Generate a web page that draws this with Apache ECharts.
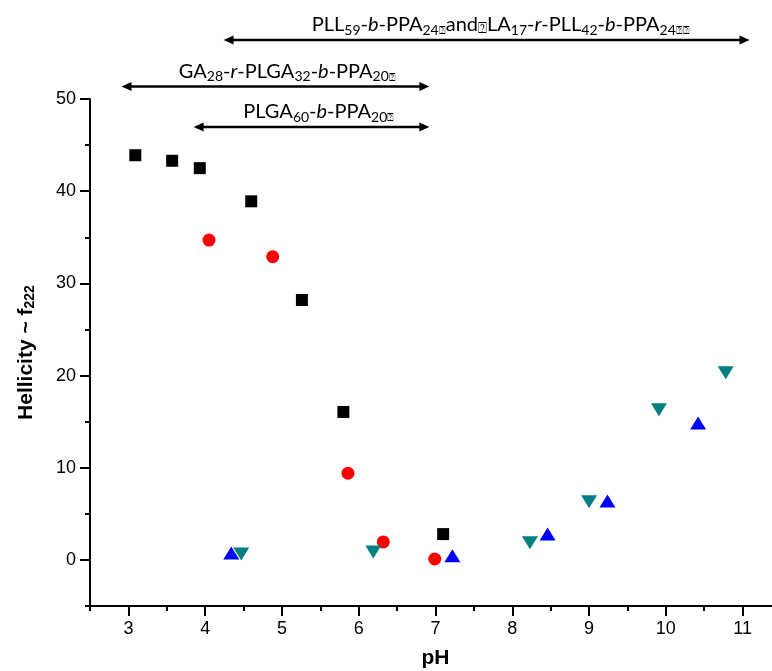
<!DOCTYPE html>
<html><head><meta charset="utf-8">
<script src="https://cdn.jsdelivr.net/npm/echarts@6/dist/echarts.min.js"></script>
<style>html,body{margin:0;padding:0;background:#fff}#c{width:772px;height:671px}</style>
</head><body><div id="c"></div>
<script>
// Data
const sqX = [3.09, 3.57, 3.93, 4.60, 5.26, 5.80, 7.10];
const sqY = [43.9, 43.3, 42.5, 38.9, 28.2, 16.05, 2.8];
const ciX = [4.05, 4.88, 5.86, 6.32, 6.99];
const ciY = [34.7, 32.9, 9.4, 1.95, 0.1];
const upX = [4.34, 7.22, 8.46, 9.24, 10.42];
const upY = [0.75, 0.45, 2.8, 6.4, 14.85];
const dnX = [4.47, 6.19, 8.23, 9.00, 9.91, 10.78];
const dnY = [0.65, 0.85, 1.85, 6.3, 16.3, 20.3];
const xTicks = [3, 4, 5, 6, 7, 8, 9, 10, 11];
const xMinorTicks = [2.5, 3.5, 4.5, 5.5, 6.5, 7.5, 8.5, 9.5, 10.5, 11.5];
const yTicks = [0, 10, 20, 30, 40, 50];
const yMinorTicks = [-5, 5, 15, 25, 35, 45];
// annotation ranges (pH) and heights (axis units)
const annStart = [4.24, 2.91, 3.85];
const annEnd = [11.09, 6.92, 6.92];
const annY = [56.4, 51.35, 46.96];
const annTextX = [7.85, 5.07, 5.48];
const annText = [
  '{n|PLL}{s|59}{n|-}{i|b}{n|-PPA}{s|24}{q|\u2370}{n|and}{Q|\u2370}{n|LA}{s|17}{n|-}{i|r}{n|-PLL}{s|42}{n|-}{i|b}{n|-PPA}{s|24}{q|\u2370\u2370}',
  '{n|GA}{s|28}{n|-}{i|r}{n|-PLGA}{s|32}{n|-}{i|b}{n|-PPA}{s|20}{q|\u2370}',
  '{n|PLGA}{s|60}{n|-}{i|b}{n|-PPA}{s|20}{q|\u2370}'
];

const AF = 'Lato, Carlito, "Open Sans", sans-serif';
const rich = {
  n: {fontFamily: AF, fontSize: 20, lineHeight: 24, color: '#000'},
  i: {fontFamily: AF, fontSize: 20, lineHeight: 24, fontStyle: 'italic', color: '#000'},
  s: {fontFamily: AF, fontSize: 14, lineHeight: 4, verticalAlign: 'bottom', color: '#000'},
  q: {fontFamily: '"DejaVu Sans"', fontSize: 11, lineHeight: 6, verticalAlign: 'bottom', color: '#444'},
  Q: {fontFamily: '"DejaVu Sans"', fontSize: 15, lineHeight: 20, verticalAlign: 'bottom', color: '#444'}
};

const zip = (a, b) => a.map((v, i) => [v, b[i]]);
const annData = annStart.map((s, i) => [s, annEnd[i], annY[i], annTextX[i]]);

const LF = '"Liberation Sans", Arial, sans-serif';
const tickStyle = {color: '#000', width: 2};
const chart = echarts.init(document.getElementById('c'), null, {renderer: 'canvas'});
chart.setOption({
  animation: false,
  backgroundColor: '#fff',
  grid: [
    {left: 90, right: -9, top: 99, bottom: 65, outerBoundsMode: 'none', containLabel: false}
  ],
  xAxis: [
    {type: 'value', min: 2.5, max: 11.5, position: 'bottom',
     axisLine: {show: true, onZero: false, lineStyle: {color: '#000', width: 2}},
     axisTick: {show: true, length: 5, customValues: xMinorTicks, lineStyle: tickStyle},
     axisLabel: {show: false}, splitLine: {show: false},
     name: 'pH', nameLocation: 'middle', nameGap: 42,
     nameTextStyle: {fontFamily: LF, fontSize: 21, fontWeight: 'bold', color: '#000'}},
    {type: 'value', min: 2.5, max: 11.5, position: 'bottom', offset: 0,
     axisLine: {show: false, onZero: false},
     axisTick: {show: true, length: 10, customValues: xTicks, lineStyle: tickStyle},
     axisLabel: {show: true, margin: 14, customValues: xTicks, fontFamily: LF, fontSize: 18, color: '#000'},
     splitLine: {show: false}}
  ],
  yAxis: [
    {type: 'value', min: -5, max: 50, position: 'left',
     axisLine: {show: true, onZero: false, lineStyle: {color: '#000', width: 2}},
     axisTick: {show: true, length: 5, customValues: yMinorTicks, lineStyle: tickStyle},
     axisLabel: {show: false}, splitLine: {show: false},
     name: 'Hellicity ~ f{s|222}', nameLocation: 'middle', nameGap: 53, nameRotate: 90,
     nameTextStyle: {fontFamily: LF, fontSize: 21, fontWeight: 'bold', color: '#000',
       rich: {s: {fontFamily: LF, fontSize: 14, fontWeight: 'bold', lineHeight: 8, verticalAlign: 'bottom', color: '#000'}}}},
    {type: 'value', min: -5, max: 50, position: 'left', offset: 0,
     axisLine: {show: false, onZero: false},
     axisTick: {show: true, length: 10, customValues: yTicks, lineStyle: tickStyle},
     axisLabel: {show: true, margin: 14, customValues: yTicks, fontFamily: LF, fontSize: 18, color: '#000'},
     splitLine: {show: false}}
  ],
  series: [
    {type: 'scatter', xAxisIndex: 0, yAxisIndex: 0, data: zip(sqX, sqY), symbol: 'rect', symbolSize: 12,
     itemStyle: {color: '#000', opacity: 1}},
    {type: 'scatter', xAxisIndex: 0, yAxisIndex: 0, data: zip(ciX, ciY), symbol: 'circle', symbolSize: 13,
     itemStyle: {color: '#ff0000', opacity: 1}},
    {type: 'scatter', xAxisIndex: 0, yAxisIndex: 0, data: zip(upX, upY), symbol: 'triangle', symbolSize: [16, 13],
     itemStyle: {color: '#0000ff', opacity: 1}},
    {type: 'scatter', xAxisIndex: 0, yAxisIndex: 0, data: zip(dnX, dnY), symbol: 'triangle', symbolRotate: 180, symbolSize: [16, 13],
     itemStyle: {color: '#008080', opacity: 1}},
    {type: 'custom', xAxisIndex: 0, yAxisIndex: 0, clip: false, data: annData, silent: true,
     renderItem: function (params, api) {
       const p0 = api.coord([api.value(0), api.value(2)]);
       const p1 = api.coord([api.value(1), api.value(2)]);
       const pt = api.coord([api.value(3), api.value(2)]);
       const i = params.dataIndex;
       const L = 10, W = 4.5;
       return {type: 'group', children: [
         {type: 'line', shape: {x1: p0[0] + 4, y1: p0[1], x2: p1[0] - 4, y2: p1[1]},
          style: {stroke: '#000', lineWidth: 2.6}},
         {type: 'polygon', shape: {points: [[p0[0], p0[1]], [p0[0] + L, p0[1] - W], [p0[0] + L, p0[1] + W]]},
          style: {fill: '#000'}},
         {type: 'polygon', shape: {points: [[p1[0], p1[1]], [p1[0] - L, p1[1] - W], [p1[0] - L, p1[1] + W]]},
          style: {fill: '#000'}},
         {type: 'text', style: {x: pt[0], y: pt[1] - 3, text: annText[i], rich: rich,
           fontFamily: AF, fontSize: 20, align: 'center', verticalAlign: 'bottom', fill: '#000'}}
       ]};
     }}
  ]
});
</script>
</body></html>
